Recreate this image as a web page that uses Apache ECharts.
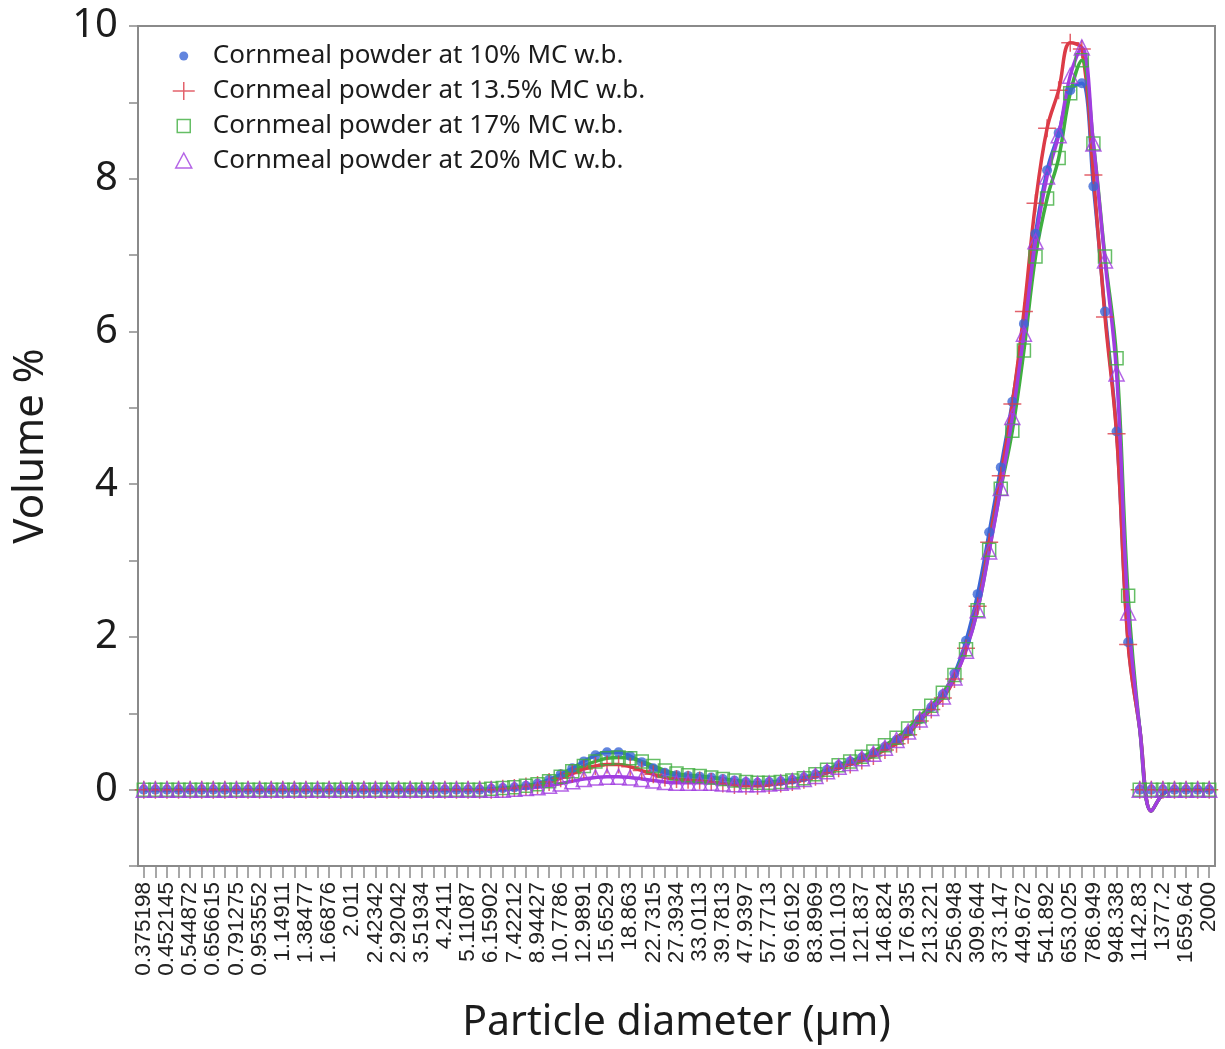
<!DOCTYPE html>
<html>
<head>
<meta charset="utf-8">
<script src="https://cdn.jsdelivr.net/npm/echarts@6/dist/echarts.min.js"></script>
<style>
  html, body { margin: 0; padding: 0; background: #ffffff; }
  #chart { width: 1225px; height: 1049px; }
</style>
</head>
<body>
<div id="chart"></div>
<script>
// Size classes (µm) that carry a tick label; one unlabeled class sits between each pair.
const tickLabels = [
  '0.375198', '0.452145', '0.544872', '0.656615', '0.791275', '0.953552', '1.14911', '1.38477',
  '1.66876', '2.011', '2.42342', '2.92042', '3.51934', '4.2411', '5.11087', '6.15902',
  '7.42212', '8.94427', '10.7786', '12.9891', '15.6529', '18.863', '22.7315', '27.3934',
  '33.0113', '39.7813', '47.9397', '57.7713', '69.6192', '83.8969', '101.103', '121.837',
  '146.824', '176.935', '213.221', '256.948', '309.644', '373.147', '449.672', '541.892',
  '653.025', '786.949', '948.338', '1142.83', '1377.2', '1659.64', '2000'
];

// Volume % per size class (93 classes)
const mc10 = [
  0, 0, 0, 0, 0, 0, 0, 0, 0, 0, 0, 0, 0, 0, 0, 0, 0, 0, 0, 0, 0, 0, 0, 0, 0, 0, 0, 0, 0, 0,
  0.01, 0.02, 0.03, 0.05, 0.08, 0.13, 0.2, 0.28, 0.37, 0.45,
  0.49, 0.49, 0.44, 0.36, 0.28, 0.22, 0.19, 0.18, 0.17, 0.16,
  0.14, 0.12, 0.1, 0.09, 0.1, 0.11, 0.13, 0.16, 0.2, 0.26,
  0.32, 0.37, 0.42, 0.48, 0.56, 0.65, 0.76, 0.92, 1.08, 1.25,
  1.52, 1.95, 2.56, 3.37, 4.22, 5.08, 6.10, 7.28, 8.11, 8.6,
  9.16, 9.25, 7.9, 6.26, 4.69, 1.93,
  0, 0, 0, 0, 0, 0, 0
];
const mc135 = [
  0, 0, 0, 0, 0, 0, 0, 0, 0, 0, 0, 0, 0, 0, 0, 0, 0, 0, 0, 0, 0, 0, 0, 0, 0, 0, 0, 0, 0, 0,
  0, 0.01, 0.02, 0.04, 0.06, 0.1, 0.15, 0.21, 0.27, 0.31,
  0.33, 0.33, 0.3, 0.25, 0.2, 0.16, 0.14, 0.13, 0.12, 0.1,
  0.08, 0.06, 0.05, 0.05, 0.06, 0.08, 0.1, 0.13, 0.17, 0.22,
  0.28, 0.33, 0.38, 0.44, 0.52, 0.6, 0.72, 0.9, 1.05, 1.2,
  1.45, 1.85, 2.4, 3.24, 4.11, 5.05, 6.26, 7.68, 8.66, 9.16,
  9.78, 9.7, 8.05, 6.19, 4.66, 1.9,
  0, 0, 0, 0, 0, 0, 0
];
const mc17 = [
  0, 0, 0, 0, 0, 0, 0, 0, 0, 0, 0, 0, 0, 0, 0, 0, 0, 0, 0, 0, 0, 0, 0, 0, 0, 0, 0, 0, 0, 0,
  0.01, 0.02, 0.03, 0.05, 0.07, 0.11, 0.17, 0.24, 0.31, 0.37,
  0.41, 0.42, 0.41, 0.37, 0.31, 0.25, 0.21, 0.19, 0.18, 0.16,
  0.14, 0.12, 0.1, 0.09, 0.09, 0.1, 0.12, 0.15, 0.2, 0.26,
  0.32, 0.37, 0.43, 0.5, 0.58, 0.68, 0.8, 0.96, 1.1, 1.27,
  1.5, 1.84, 2.35, 3.14, 3.94, 4.70, 5.75, 6.98, 7.74, 8.27,
  9.12, 9.55, 8.46, 6.98, 5.65, 2.54,
  0, 0, 0, 0, 0, 0, 0
];
const mc20 = [
  0, 0, 0, 0, 0, 0, 0, 0, 0, 0, 0, 0, 0, 0, 0, 0, 0, 0, 0, 0, 0, 0, 0, 0, 0, 0, 0, 0, 0, 0,
  0, 0, 0.01, 0.02, 0.03, 0.05, 0.08, 0.11, 0.14, 0.16,
  0.17, 0.17, 0.16, 0.14, 0.12, 0.1, 0.09, 0.09, 0.09, 0.09,
  0.08, 0.07, 0.07, 0.07, 0.08, 0.09, 0.11, 0.14, 0.18, 0.24,
  0.3, 0.35, 0.41, 0.47, 0.55, 0.65, 0.76, 0.92, 1.07, 1.22,
  1.47, 1.82, 2.35, 3.12, 3.95, 4.88, 5.97, 7.18, 8.03, 8.57,
  9.35, 9.72, 8.46, 6.93, 5.45, 2.32,
  0, 0, 0, 0, 0, 0, 0
];
// The smoothing curves leave the last non-zero class steeply and undershoot
// zero just past 1142.83 µm before settling back onto the baseline.
const curveTail = [0.8, -0.28, -0.06, 0, 0, 0, 0];

const seriesNames = [
  'Cornmeal powder at 10% MC w.b.',
  'Cornmeal powder at 13.5% MC w.b.',
  'Cornmeal powder at 17% MC w.b.',
  'Cornmeal powder at 20% MC w.b.'
];
const colors = ['#3b66d6', '#dc3b47', '#3fae3f', '#a13de0'];

// Full class list: labelled classes with the geometric mid-class between neighbours.
const categories = [];
tickLabels.forEach((t, k) => {
  categories.push(t);
  if (k < tickLabels.length - 1) {
    const mid = Math.sqrt(parseFloat(t) * parseFloat(tickLabels[k + 1]));
    categories.push(mid.toPrecision(6));
  }
});

const values = [mc10, mc135, mc17, mc20];
const curves = values.map(v => v.slice(0, v.length - curveTail.length).concat(curveTail));

const plusPath = 'path://M0,9L18,9M9,0L9,18';
const markers = [
  { symbol: 'circle', size: 10, style: { color: colors[0] } },
  { symbol: plusPath, size: 18, style: { color: 'rgba(0,0,0,0)', borderColor: colors[1], borderWidth: 1.5 } },
  { symbol: 'rect', size: 13, style: { color: 'rgba(0,0,0,0)', borderColor: colors[2], borderWidth: 1.5 } },
  { symbol: 'triangle', size: 15, style: { color: 'rgba(0,0,0,0)', borderColor: colors[3], borderWidth: 1.5 } }
];
// Legend glyphs, padded so each sits at the left of a 37x20 legend cell
const legendIcons = [
  'path://M0,0M37,20M8.5,10A4.5,4.5,0,1,1,17.5,10A4.5,4.5,0,1,1,8.5,10Z',
  'path://M0,0M37,20M2,10L24,10M13,1L13,19',
  'path://M0,0M37,20M6.5,3.5L19.5,3.5L19.5,16.5L6.5,16.5Z',
  'path://M0,0M37,20M13,2L21,17L5,17Z'
];

const series = [];
values.forEach((v, i) => {
  series.push({
    name: seriesNames[i],
    type: 'scatter',
    data: v,
    symbol: markers[i].symbol,
    symbolSize: markers[i].size,
    itemStyle: markers[i].style,
    z: 4,
    emphasis: { disabled: true }
  });
});
curves.forEach((c, i) => {
  series.push({
    name: seriesNames[i] + ' curve',
    type: 'line',
    data: c,
    smooth: 0.4,
    showSymbol: false,
    lineStyle: { color: colors[i], width: 3.5 },
    itemStyle: { color: colors[i] },
    z: 2 + i * 0.1,
    emphasis: { disabled: true }
  });
});

const gridColor = '#8a8a8a';
const textColor = '#1c1c1c';

const chart = echarts.init(document.getElementById('chart'), null, { renderer: 'canvas' });
chart.setOption({
  animation: false,
  backgroundColor: '#ffffff',
  grid: {
    left: 138, right: 10, top: 26, bottom: 182,
    show: true, borderColor: gridColor, borderWidth: 2, backgroundColor: 'transparent'
  },
  legend: {
    data: seriesNames.map((n, i) => ({ name: n, icon: legendIcons[i] })),
    orient: 'vertical',
    left: 165,
    top: 38,
    itemWidth: 37,
    itemHeight: 20,
    itemGap: 9,
    itemStyle: { borderWidth: 1.5 },
    selectedMode: false,
    textStyle: { fontFamily: 'Noto Sans', fontSize: 26, lineHeight: 26, color: textColor }
  },
  xAxis: {
    type: 'category',
    data: categories,
    boundaryGap: true,
    name: 'Particle diameter (µm)',
    nameLocation: 'middle',
    nameGap: 137,
    nameTextStyle: { fontFamily: 'Noto Sans', fontSize: 41, color: textColor },
    axisLine: { show: true, onZero: false, lineStyle: { color: gridColor, width: 2 } },
    axisTick: { show: true, interval: 0, alignWithLabel: true, length: 12, lineStyle: { color: gridColor, width: 1.5 } },
    axisLabel: {
      interval: 1,
      rotate: 90,
      margin: 16,
      fontFamily: 'Liberation Sans',
      fontSize: 22.5,
      color: '#222222'
    },
    splitLine: { show: false }
  },
  yAxis: {
    type: 'value',
    min: -1,
    max: 10,
    interval: 1,
    name: 'Volume %',
    nameLocation: 'middle',
    nameGap: 86,
    nameTextStyle: { fontFamily: 'Noto Sans', fontSize: 42, color: textColor },
    axisLine: { show: true, lineStyle: { color: gridColor, width: 2 } },
    axisTick: { show: true, length: 9, lineStyle: { color: gridColor, width: 1.5 } },
    axisLabel: {
      margin: 20,
      fontFamily: 'Noto Sans',
      fontSize: 40,
      color: textColor,
      formatter: v => (v >= 0 && v % 2 === 0) ? String(v) : ''
    },
    splitLine: { show: false }
  },
  series: series
});
</script>
</body>
</html>
